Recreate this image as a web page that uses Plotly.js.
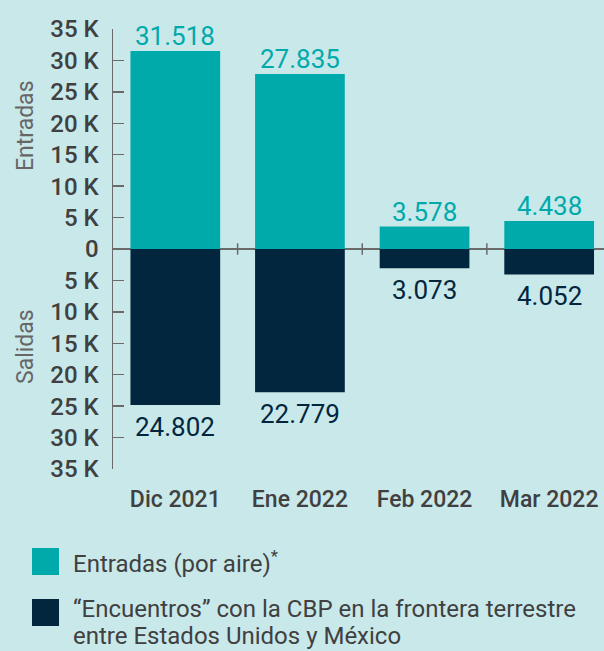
<!DOCTYPE html>
<html>
<head>
<meta charset="utf-8">
<script src="https://cdn.plot.ly/plotly-3.0.1.min.js"></script>
<style>
html,body{margin:0;padding:0;background:#c9e8ea;}
#chart{width:604px;height:651px;}
</style>
</head>
<body>
<div id="chart"></div>
<script>
// ---- data ----
var categories = ['Dic 2021', 'Ene 2022', 'Feb 2022', 'Mar 2022'];
var entradas = [31518, 27835, 3578, 4438];
var salidas = [24802, 22779, 3073, 4052];
var tickValues = [35000, 30000, 25000, 20000, 15000, 10000, 5000, 0, -5000, -10000, -15000, -20000, -25000, -30000, -35000];
var tickLabels = ['35 K','30 K','25 K','20 K','15 K','10 K','5 K','0','5 K','10 K','15 K','20 K','25 K','30 K','35 K'];
var legendLine1 = 'Entradas (por aire)<sup>*</sup>';
var legendLine2 = '“Encuentros” con la CBP en la frontera terrestre';
var legendLine3 = 'entre Estados Unidos y México';
var axisTitles = ['Entradas', 'Salidas'];

// ---- style ----
var TEAL = '#00aaab';
var NAVY = '#02263d';
var BG = '#c9e8ea';
var TXT = '#404040';
var AX = '#6a6a6a';
var FONT = 'Roboto, "Open Sans", sans-serif';

function fmt(v){
  var s = String(Math.abs(v));
  return s.replace(/\B(?=(\d{3})+(?!\d))/g, '.');
}

var W = 604, H = 651;
var M = {l: 113, r: 0, t: 29, b: 182};
var pw = W - M.l - M.r, ph = H - M.t - M.b;
function px(x){ return (x - M.l) / pw; }
function py(y){ return (H - M.b - y) / ph; }

var salidasNeg = salidas.map(function(v){return -v;});

var traces = [
  {
    type: 'bar', x: categories, y: entradas, name: 'Entradas',
    marker: {color: TEAL, line: {width: 0}}, width: 0.72,
    hoverinfo: 'x+y'
  },
  {
    type: 'bar', x: categories, y: salidasNeg, name: 'Salidas',
    marker: {color: NAVY, line: {width: 0}}, width: 0.72,
    hoverinfo: 'x+y'
  }
];

var shapes = [];
for (var i = 0; i < categories.length - 1; i++) {
  shapes.push({type: 'line', xref: 'x', yref: 'y', x0: i + 0.5, x1: i + 0.5, y0: -900, y1: 900,
    line: {color: AX, width: 1.5}});
}
// legend swatches
shapes.push({type: 'rect', xref: 'paper', yref: 'paper', x0: px(32), x1: px(59), y0: py(575), y1: py(548),
  fillcolor: TEAL, line: {width: 0}});
shapes.push({type: 'rect', xref: 'paper', yref: 'paper', x0: px(32), x1: px(59), y0: py(626), y1: py(599),
  fillcolor: NAVY, line: {width: 0}});

var legFont = {family: FONT, size: 24, color: TXT};
var annotations = [
  {xref: 'paper', yref: 'paper', x: px(25), y: py(126), text: axisTitles[0], textangle: -90, showarrow: false,
    xanchor: 'center', yanchor: 'middle', font: {family: FONT, size: 23, color: '#666666'}},
  {xref: 'paper', yref: 'paper', x: px(25), y: py(347), text: axisTitles[1], textangle: -90, showarrow: false,
    xanchor: 'center', yanchor: 'middle', font: {family: FONT, size: 23, color: '#666666'}},
  {xref: 'paper', yref: 'paper', x: px(71), y: py(562), text: legendLine1, showarrow: false,
    xanchor: 'left', yanchor: 'middle', align: 'left', font: legFont},
  {xref: 'paper', yref: 'paper', x: px(71), y: py(609), text: legendLine2, showarrow: false,
    xanchor: 'left', yanchor: 'middle', align: 'left', font: legFont},
  {xref: 'paper', yref: 'paper', x: px(71), y: py(636), text: legendLine3, showarrow: false,
    xanchor: 'left', yanchor: 'middle', align: 'left', font: legFont}
];
categories.forEach(function(c, k){
  annotations.push({xref: 'x', yref: 'y', x: c, y: entradas[k], text: fmt(entradas[k]), showarrow: false,
    xanchor: 'center', yanchor: 'bottom', yshift: -2, font: {family: FONT, size: 26, color: TEAL}});
  annotations.push({xref: 'x', yref: 'y', x: c, y: salidasNeg[k], text: fmt(salidas[k]), showarrow: false,
    xanchor: 'center', yanchor: 'top', yshift: -5, font: {family: FONT, size: 26, color: NAVY}});
});

var layout = {
  width: W, height: H,
  margin: M,
  paper_bgcolor: BG, plot_bgcolor: BG,
  barmode: 'overlay',
  showlegend: false,
  font: {family: FONT, color: TXT},
  xaxis: {
    type: 'category', range: [-0.5, 3.44], fixedrange: true,
    showline: false, showgrid: false, zeroline: false, ticks: '',
    ticklabelstandoff: 14,
    tickfont: {family: FONT, size: 23, color: TXT, weight: 500}
  },
  yaxis: {
    range: [-35000, 35000], fixedrange: true,
    tickvals: tickValues, ticktext: tickLabels,
    showline: true, linecolor: AX, linewidth: 1.5,
    ticks: 'inside', ticklen: 11, tickwidth: 1.5, tickcolor: AX,
    showgrid: false,
    zeroline: true, zerolinecolor: AX, zerolinewidth: 1.5,
    ticklabelstandoff: 8,
    tickfont: {family: FONT, size: 24, color: TXT, weight: 500}
  },
  shapes: shapes,
  annotations: annotations
};

Plotly.newPlot('chart', traces, layout, {displayModeBar: false, staticPlot: true});
</script>
</body>
</html>
